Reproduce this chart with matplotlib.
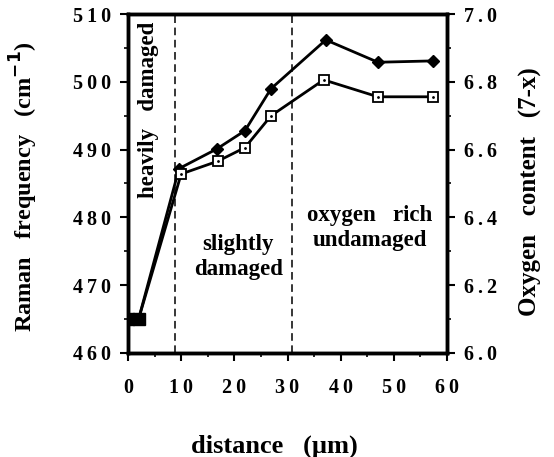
import matplotlib
matplotlib.use('Agg')
from matplotlib import pyplot as plt
from matplotlib.ticker import MultipleLocator, FuncFormatter

plt.rcParams['font.family'] = ['Liberation Serif', 'DejaVu Serif']
plt.rcParams['font.weight'] = 'bold'

# Raman frequency (filled diamonds, left axis)
dist_raman = [0, 2, 9.6, 16.7, 22, 26.9, 37.2, 47, 57.3]
raman = [465, 465, 487.2, 490.1, 492.8, 499.0, 506.2, 502.9, 503.1]

# oxygen content (open squares, right axis)
dist_oxy = [0, 2, 10, 16.9, 22, 26.9, 36.8, 47, 57.3]
oxygen = [6.10, 6.10, 6.528, 6.566, 6.606, 6.700, 6.806, 6.756, 6.756]

# region boundaries
bounds = [8.8, 30.8]


def spaced(fmt):
    # old print style: wide letter spacing in tick numbers
    return FuncFormatter(lambda v, p: '\u2009'.join(fmt.format(v)))


fig = plt.figure(figsize=(5.54, 4.57), dpi=100)
ax = fig.add_axes([0.231, 0.228, 0.576, 0.741])
ax2 = ax.twinx()

for b in bounds:
    ax.axvline(b, color='k', lw=1.1, ls=(0, (5, 3)))

ax.plot(dist_raman, raman, 'k-', lw=2, marker='D', ms=6, mfc='k', mec='k')
ax2.plot(dist_oxy, oxygen, 'k-', lw=2, marker='s', ms=6.5, mfc='white', mec='k', mew=1.3)
ax2.plot(dist_oxy[2:], oxygen[2:], 'k.', ms=2, ls='none')
ax2.plot(dist_oxy[:2], oxygen[:2], 'ks', ms=8, ls='none')

ax.set_xlim(0, 60)
ax.set_ylim(460, 510)
ax2.set_ylim(6.0, 7.0)

ax.xaxis.set_major_locator(MultipleLocator(10))
ax.xaxis.set_minor_locator(MultipleLocator(5))
ax.yaxis.set_major_locator(MultipleLocator(10))
ax.yaxis.set_minor_locator(MultipleLocator(5))
ax2.yaxis.set_major_locator(MultipleLocator(0.2))
ax2.yaxis.set_minor_locator(MultipleLocator(0.1))
ax.xaxis.set_major_formatter(spaced('{:.0f}'))
ax.yaxis.set_major_formatter(spaced('{:.0f}'))
ax2.yaxis.set_major_formatter(spaced('{:.1f}'))

for a in (ax, ax2):
    for s in a.spines.values():
        s.set_linewidth(2.5)

ax.tick_params(axis='y', which='major', direction='out', length=6, width=1.5, labelsize=14.5, pad=6)
ax.tick_params(axis='y', which='minor', direction='out', length=3, width=1.2)
ax.tick_params(axis='x', which='major', direction='out', length=6, width=1.5, labelsize=14.5, pad=12)
ax.tick_params(axis='x', which='minor', direction='out', length=3, width=1.2)
ax2.tick_params(axis='y', which='major', direction='out', length=6, width=1.5, labelsize=14.5, pad=6)
ax2.tick_params(axis='y', which='minor', direction='out', length=3, width=1.2)

ax.set_xlabel('distance   (\u00b5m)', fontsize=19, fontweight='bold')
ax.set_ylabel('Raman   frequency   (cm$^{\\mathbf{-1}}$)', fontsize=17.5, fontweight='bold')
ax2.set_ylabel('Oxygen   content   (7-x)', fontsize=18, fontweight='bold')
ax.xaxis.set_label_coords(0.46, -0.242)
ax.yaxis.set_label_coords(-0.276, 0.49)
ax2.yaxis.set_label_coords(1.226, 0.475)

ax.text(3.8, 495.8, 'heavily   damaged', rotation=90, fontsize=16.5, fontweight='bold',
        ha='center', va='center')
ax.text(20.7, 474.2, 'slightly\ndamaged', fontsize=16.5, fontweight='bold',
        ha='center', va='center', linespacing=1.25)
ax.text(45.5, 478.4, 'oxygen   rich\nundamaged', fontsize=16.5, fontweight='bold',
        ha='center', va='center', linespacing=1.25)

plt.savefig('out.png', dpi=100)
